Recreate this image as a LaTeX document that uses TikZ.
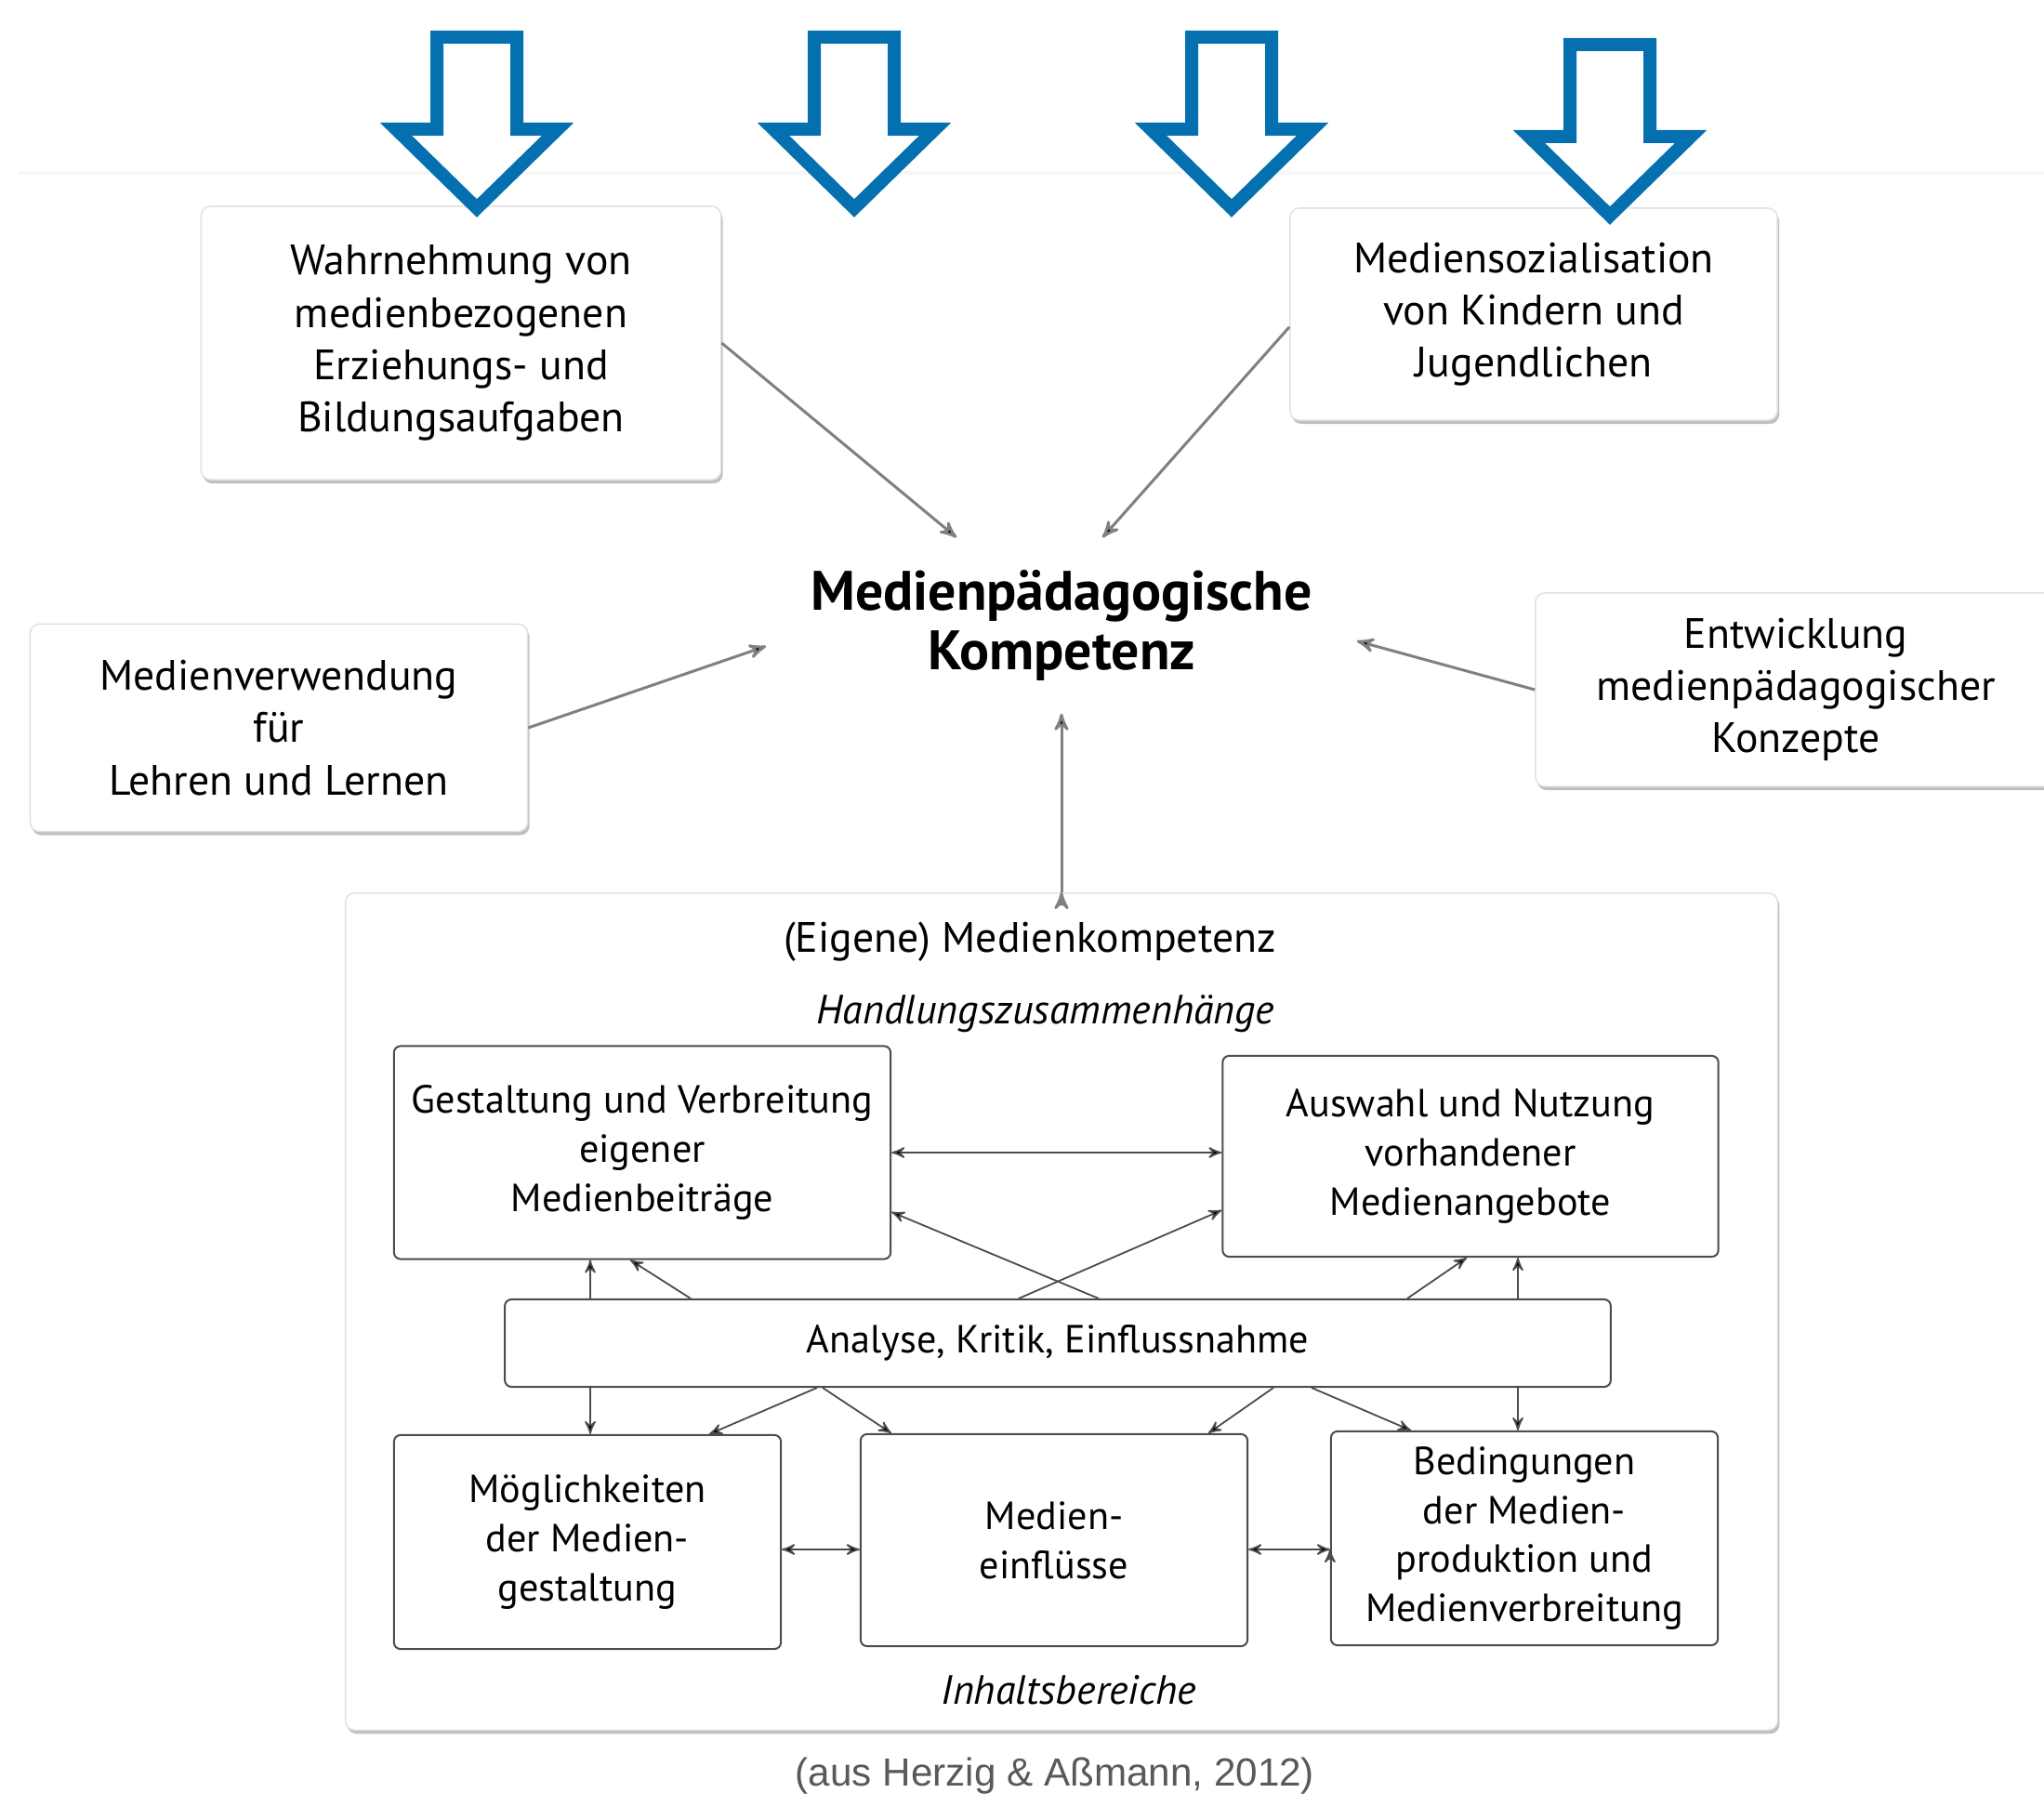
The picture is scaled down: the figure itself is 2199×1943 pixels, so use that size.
\documentclass[tikz,border=0pt]{standalone}
\usepackage{fontspec}
\setmainfont{PT Sans}
\newfontfamily\quellefont{Liberation Sans}
\usetikzlibrary{arrows,shadows}

\definecolor{slideblue}{RGB}{5,112,176}

\begin{document}
\begin{tikzpicture}[x=0.01cm,y=-0.01cm,>=stealth',
  outer box/.style={rectangle,rounded corners=0.1cm,fill=white,draw=black!12,
    drop shadow={shadow xshift=0.02cm,shadow yshift=-0.04cm,opacity=0.45,fill=black!55},
    align=center,font=\fontsize{13}{16}\selectfont},
  inner box/.style={rectangle,rounded corners=0.07cm,fill=white,draw=black!70,
    line width=0.02cm,align=center,font=\fontsize{12}{15}\selectfont},
  feed/.style={->,draw=black!50,line width=0.03cm},
  link/.style={->,draw=black!70,line width=0.018cm},
  hollow arrow/.style={draw=slideblue,fill=white,line width=0.14cm}]
  \useasboundingbox (0,0) rectangle (2199,1943);
  \draw[black!3,line width=0.04cm] (20,186) -- (2199,186);

  % outer ring
  \node[outer box,minimum width=5.59cm,minimum height=2.94cm] (wahr) at (496,369)
    {Wahrnehmung von\\medienbezogenen\\Erziehungs- und\\Bildungsaufgaben};
  \node[outer box,minimum width=5.24cm,minimum height=2.28cm] (ms) at (1650,338)
    {Mediensozialisation\\von Kindern und\\Jugendlichen};
  \node[outer box,minimum width=5.35cm,minimum height=2.23cm] (mv) at (300,783)
    {Medienverwendung\\für\\Lehren und Lernen};
  \node[outer box,minimum width=5.60cm,minimum height=2.08cm] (ent) at (1932,742)
    {Entwicklung\\medienpädagogischer\\Konzepte};
  \node[minimum width=6.34cm,minimum height=1.88cm,align=center,
    font=\fontsize{17}{18}\selectfont\bfseries] (mpk) at (1142,673)
    {Medienpädagogische\\Kompetenz};

  % eigene Medienkompetenz
  \node[outer box,minimum width=15.4cm,minimum height=9.0cm] (big) at (1142,1411) {};
  \node[font=\fontsize{13}{16}\selectfont] (eig) at (1108,1013) {(Eigene) Medienkompetenz};
  \node[font=\fontsize{12.5}{15}\selectfont\itshape] (hz) at (1125,1091) {Handlungszusammenhänge};
  \node[font=\fontsize{12.5}{15}\selectfont\itshape] (ib) at (1150,1818) {Inhaltsbereiche};

  \node[inner box,minimum width=5.34cm,minimum height=2.29cm] (gest) at (691,1240)
    {Gestaltung und Verbreitung\\eigener\\Medienbeiträge};
  \node[inner box,minimum width=5.33cm,minimum height=2.16cm] (ausw) at (1582,1244)
    {Auswahl und Nutzung\\vorhandener\\Medienangebote};
  \node[inner box,minimum width=11.89cm,minimum height=0.94cm] (ana) at (1138,1445)
    {Analyse, Kritik, Einflussnahme};
  \node[inner box,minimum width=4.16cm,minimum height=2.30cm] (moeg) at (632,1659)
    {Möglichkeiten\\der Medien-\\gestaltung};
  \node[inner box,minimum width=4.16cm,minimum height=2.28cm] (einf) at (1134,1657)
    {Medien-\\einflüsse};
  \node[inner box,minimum width=4.16cm,minimum height=2.30cm] (bed) at (1640,1655)
    {Bedingungen\\der Medien-\\produktion und\\Medienverbreitung};
  \coordinate (lx) at (635,0);
  \coordinate (rx) at (1633,0);
  \coordinate (hy) at (0,1667);

  \path[link]
    (gest.east) edge[<->] (gest.east -| ausw.west)
    ([shift={(44,0)}]ana.north) edge ([shift={(0,64)}]gest.east)
    ([shift={(-42,0)}]ana.north) edge ([shift={(0,58)}]ausw.west)
    (lx |- ana.north) edge (lx |- gest.south)
    ([shift={(-395,0)}]ana.north) edge ([shift={(-13,0)}]gest.south)
    ([shift={(376,0)}]ana.north) edge ([shift={(-4,0)}]ausw.south)
    (rx |- ana.north) edge (rx |- ausw.south)
    (lx |- ana.south) edge (lx |- moeg.north)
    ([shift={(-259,0)}]ana.south) edge ([shift={(131,0)}]moeg.north)
    ([shift={(-253,0)}]ana.south) edge ([shift={(-175,0)}]einf.north)
    ([shift={(232,0)}]ana.south) edge ([shift={(166,0)}]einf.north)
    ([shift={(273,0)}]ana.south) edge ([shift={(-122,0)}]bed.north)
    (rx |- ana.south) edge (rx |- bed.north)
    (moeg.east |- hy) edge[<->] (einf.west |- hy)
    (bed.west |- hy) edge[<->] (einf.east |- hy);

  \path[feed]
    (wahr.east) edge (mpk.140)
    (ms.183) edge (mpk.65)
    (mv.east) edge (mpk.184)
    (ent.west) edge (mpk.-3)
    (big.north) edge (mpk.south);

  % blue arrows on top
  \foreach \cx/\ty in {513/33,919/33,1325/33,1732/41}
    \draw[hollow arrow] (\cx-43,\ty+7) -- (\cx+43,\ty+7) -- (\cx+43,\ty+106)
      -- (\cx+87,\ty+106) -- (\cx,\ty+191) -- (\cx-87,\ty+106) -- (\cx-43,\ty+106) -- cycle;

  \node[font=\quellefont\fontsize{12}{14}\selectfont,text=black!65] (quelle) at (1135,1911)
    {(aus Herzig \& Aßmann, 2012)};
\end{tikzpicture}
\end{document}
